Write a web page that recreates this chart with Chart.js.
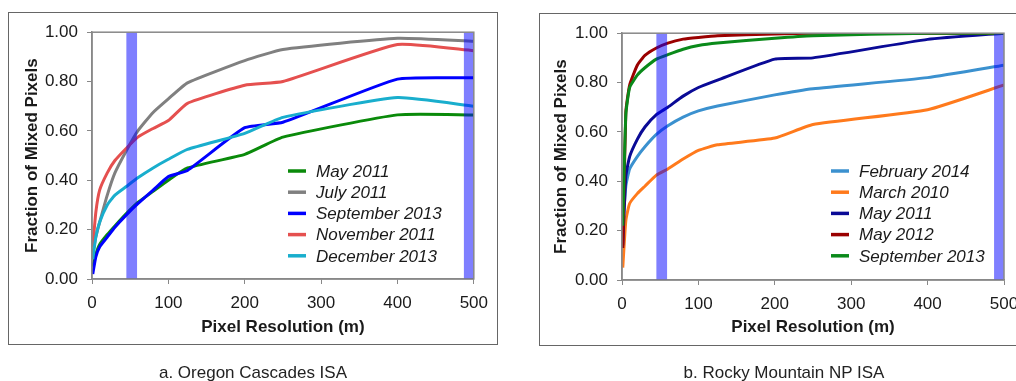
<!DOCTYPE html>
<html>
<head>
<meta charset="utf-8">
<script src="https://cdn.jsdelivr.net/npm/chart.js@4.4.1/dist/chart.umd.min.js"></script>
<style>
    body {margin: 0; width: 1016px; height: 381px; overflow: hidden; background: #fff; position: relative;
        font-family: Arial, "Liberation Sans", sans-serif;}
    .panel {position: absolute; width: 488px; height: 331px; outline: 1px solid #666;}
    .caption {position: absolute; top: 363px; width: 490px; text-align: center; font-size: 17px; color: #222;}
</style>
</head>
<body>
<div class="panel" style="left: 9px; top: 13px;"><canvas id="oregonChart"></canvas></div>
<div class="panel" style="left: 540px; top: 14px;"><canvas id="rockyChart"></canvas></div>
<div class="caption" style="left: 8px;">a. Oregon Cascades ISA</div>
<div class="caption" style="left: 539px;">b. Rocky Mountain NP ISA</div>

<script>
// ---------- Data ----------
const resolution = [1, 5, 10, 20, 30, 45, 60, 80, 100, 125, 200, 250, 400, 500];
const xTicks = [0, 100, 200, 300, 400, 500];
const yTicks = [0, 0.2, 0.4, 0.6, 0.8, 1.0];
// highlighted resolution ranges (m)
const bands = [[45, 59], [487, 500]];

// Oregon Cascades
const oregonLabels = ['May 2011', 'July 2011', 'September 2013', 'November 2011', 'December 2013'];
const oregonMay2011 = [0.05, 0.10, 0.14, 0.18, 0.215, 0.265, 0.31, 0.355, 0.40, 0.45, 0.505, 0.575, 0.665, 0.665];
const oregonJul2011 = [0.10, 0.17, 0.23, 0.34, 0.43, 0.52, 0.60, 0.675, 0.73, 0.795, 0.885, 0.93, 0.975, 0.963];
const oregonSep2013 = [0.02, 0.09, 0.13, 0.17, 0.21, 0.26, 0.305, 0.36, 0.415, 0.44, 0.613, 0.635, 0.81, 0.815];
const oregonNov2011 = [0.13, 0.27, 0.36, 0.43, 0.48, 0.53, 0.575, 0.61, 0.642, 0.712, 0.785, 0.80, 0.95, 0.925];
const oregonDec2013 = [0.08, 0.17, 0.23, 0.30, 0.34, 0.375, 0.41, 0.45, 0.485, 0.525, 0.59, 0.655, 0.735, 0.70];
const oregonColors = ['#0a8a0a', '#808080', '#0000ff', '#e5504f', '#19aecd'];

// Rocky Mountain NP
const rockyLabels = ['February 2014', 'March 2010', 'May 2011', 'May 2012', 'September 2013'];
const rockyFeb2014 = [0.22, 0.38, 0.45, 0.50, 0.54, 0.59, 0.625, 0.66, 0.685, 0.705, 0.75, 0.775, 0.82, 0.87];
const rockyMar2010 = [0.05, 0.24, 0.31, 0.35, 0.38, 0.425, 0.45, 0.49, 0.525, 0.548, 0.575, 0.63, 0.69, 0.79];
const rockyMay2011 = [0.14, 0.42, 0.50, 0.57, 0.62, 0.67, 0.70, 0.745, 0.78, 0.81, 0.895, 0.90, 0.975, 1.0];
const rockyMay2012 = [0.13, 0.68, 0.79, 0.87, 0.91, 0.94, 0.96, 0.976, 0.983, 0.99, 0.997, 1.0, 1.0, 1.0];
const rockySep2013 = [0.22, 0.67, 0.78, 0.83, 0.86, 0.895, 0.913, 0.935, 0.95, 0.96, 0.98, 0.99, 1.0, 1.0];
const rockyColors = ['#3b91cf', '#ff7a1c', '#0a0a96', '#9a0000', '#0a8a1a'];

// ---------- Plugins ----------
const Chart = window.Chart
Chart.defaults.font.family = 'Arial, "Liberation Sans", sans-serif';
Chart.defaults.color = '#1a1a1a';

// translucent blue bands over the lines, then the plot frame
const bandPlugin = {
    id: 'bands',
    afterDatasetsDraw(chart) {
        const {ctx, chartArea, scales} = chart;
        ctx.save();
        ctx.fillStyle = 'rgba(0, 0, 255, 0.5)';
        bands.forEach(([from, to]) => {
            const x0 = scales.x.getPixelForValue(from);
            const x1 = scales.x.getPixelForValue(to);
            ctx.fillRect(x0, chartArea.top, x1 - x0, chartArea.bottom - chartArea.top);
        });
        ctx.strokeStyle = '#888';
        ctx.lineWidth = 1.5;
        ctx.strokeRect(chartArea.left, chartArea.top, chartArea.right - chartArea.left, chartArea.bottom - chartArea.top);
        ctx.restore();
    }
};

// legend drawn inside the plot area
const innerLegend = {
    id: 'innerLegend',
    afterDraw(chart, args, opts) {
        const {ctx} = chart;
        ctx.save();
        ctx.font = 'italic 17px Arial, "Liberation Sans", sans-serif';
        ctx.textBaseline = 'middle';
        chart.data.datasets.forEach((ds, i) => {
            const y = opts.top + i * opts.gap;
            ctx.strokeStyle = ds.borderColor;
            ctx.lineWidth = 3.5;
            ctx.beginPath();
            ctx.moveTo(opts.left, y);
            ctx.lineTo(opts.left + 18, y);
            ctx.stroke();
            ctx.fillStyle = '#1a1a1a';
            ctx.fillText(ds.label, opts.left + 28, y + 1);
        });
        ctx.restore();
    }
};

const makeDatasets = (labels, series, colors) => series.map((values, i) => ({
    label: labels[i],
    data: values.map((v, j) => ({x: resolution[j], y: v})),
    borderColor: colors[i],
    borderWidth: 3,
    pointRadius: 0,
    tension: 0.15,
    order: -i
}));

const buildChart = (id, datasets, layout) => {
    const ctx = document.getElementById(id).getContext('2d');
    return new Chart(ctx, {
        type: 'line',
        data: {datasets: datasets},
        plugins: [bandPlugin, innerLegend],
        options: {
            responsive: true, maintainAspectRatio: false, animation: false,
            layout: {padding: {left: 0, top: layout.top, right: layout.right, bottom: 0}},
            plugins: {
                legend: {display: false}, tooltip: {enabled: false},
                innerLegend: {left: layout.legendX, top: layout.legendY, gap: 21.2}
            },
            scales: {
                x: {
                    type: 'linear', min: 0, max: 500,
                    afterBuildTicks: (scale) => { scale.ticks = xTicks.map(v => ({value: v})) },
                    afterFit: (scale) => { scale.height = 65 },
                    grid: {drawOnChartArea: false, tickLength: 5, color: '#888'},
                    border: {color: '#888', width: 1.5},
                    ticks: {font: {size: 17}, padding: 9, maxRotation: 0},
                    title: {display: true, text: 'Pixel Resolution (m)', font: {size: 17, weight: 'bold'},
                        padding: {top: 0, bottom: layout.xTitlePad}}
                },
                y: {
                    min: 0, max: 1,
                    afterBuildTicks: (scale) => { scale.ticks = yTicks.map(v => ({value: v})) },
                    afterFit: (scale) => { scale.width = layout.yWidth },
                    grid: {drawOnChartArea: false, tickLength: 5, color: '#888'},
                    border: {color: '#888', width: 1.5},
                    ticks: {font: {size: 17}, padding: 9, callback: (value) => value.toFixed(2)},
                    title: {display: true, text: 'Fraction of Mixed Pixels', font: {size: 17, weight: 'bold'},
                        padding: {top: layout.yTitlePad, bottom: 0}}
                }
            }
        }
    });
}

const oregonChart = buildChart('oregonChart',
    makeDatasets(oregonLabels, [oregonMay2011, oregonJul2011, oregonSep2013, oregonNov2011, oregonDec2013], oregonColors),
    {top: 13, right: 22, yWidth: 83, yTitlePad: 13, xTitlePad: 6, legendX: 279, legendY: 158});

const rockyChart = buildChart('rockyChart',
    makeDatasets(rockyLabels, [rockyFeb2014, rockyMar2010, rockyMay2011, rockyMay2012, rockySep2013], rockyColors),
    {top: 14, right: 24, yWidth: 82, yTitlePad: 11, xTitlePad: 7, legendX: 291, legendY: 157});
</script>
</body>
</html>
